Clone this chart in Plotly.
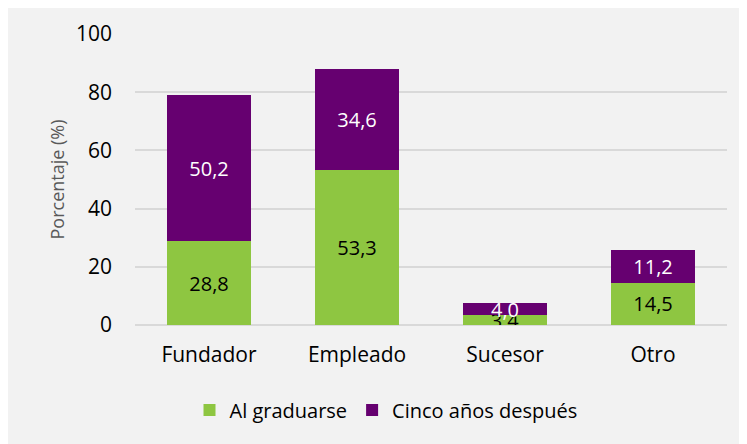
import plotly.graph_objects as go

categories = ["Fundador", "Empleado", "Sucesor", "Otro"]
al_graduarse = [28.8, 53.3, 3.4, 14.5]
cinco_anios = [50.2, 34.6, 4.0, 11.2]
y_ticks = [0, 20, 40, 60, 80, 100]

def fmt(v):
    return f"{v:.1f}".replace(".", ",")

FONT = "Open Sans"
fig = go.Figure()
fig.add_trace(go.Bar(
    x=categories, y=al_graduarse, name="Al graduarse",
    marker=dict(color="#8EC641", line=dict(width=0)),
    text=[fmt(v) for v in al_graduarse], textposition="inside",
    insidetextanchor="middle", textangle=0, constraintext="none",
    textfont=dict(color="#000000", size=20, family=FONT),
))
fig.add_trace(go.Bar(
    x=categories, y=cinco_anios, name="Cinco años después",
    marker=dict(color="#660070", line=dict(width=0)),
    text=[fmt(v) for v in cinco_anios], textposition="inside",
    insidetextanchor="middle", textangle=0, constraintext="none",
    textfont=dict(color="#FFFFFF", size=20, family=FONT),
))

W, H = 739, 436
L, T = 127, 26
pw, ph = 592, 291
R, B = W - L - pw, H - T - ph

fig.update_layout(
    width=W, height=H,
    barmode="stack", bargap=0.43,
    margin=dict(l=L, r=R, t=T, b=B),
    paper_bgcolor="#F2F2F2", plot_bgcolor="#F2F2F2",
    font=dict(family=FONT, size=20, color="#000000"),
    showlegend=True,
    legend=dict(orientation="h", x=0.424, xanchor="center", y=-85 / ph,
                yanchor="middle", font=dict(size=20, family=FONT),
                bgcolor="rgba(0,0,0,0)", itemwidth=30, traceorder="normal"),
    xaxis=dict(showgrid=False, showline=False, zeroline=False, ticks="",
               ticklabelstandoff=15, tickfont=dict(size=21)),
    yaxis=dict(range=[0, 100], tickvals=y_ticks, showgrid=True,
               gridcolor="#D9D9D9", gridwidth=1.5, zeroline=True,
               zerolinecolor="#D9D9D9", zerolinewidth=1.5, showline=False,
               ticks="", ticklabelstandoff=22, tickfont=dict(size=21)),
    annotations=[dict(text="Porcentaje (%)", textangle=-90, xref="paper", yref="paper",
                      x=-79 / pw, y=0.5, xanchor="center", yanchor="middle",
                      showarrow=False, font=dict(size=18, color="#595959", family=FONT))],
)

fig.write_html("out.html")
